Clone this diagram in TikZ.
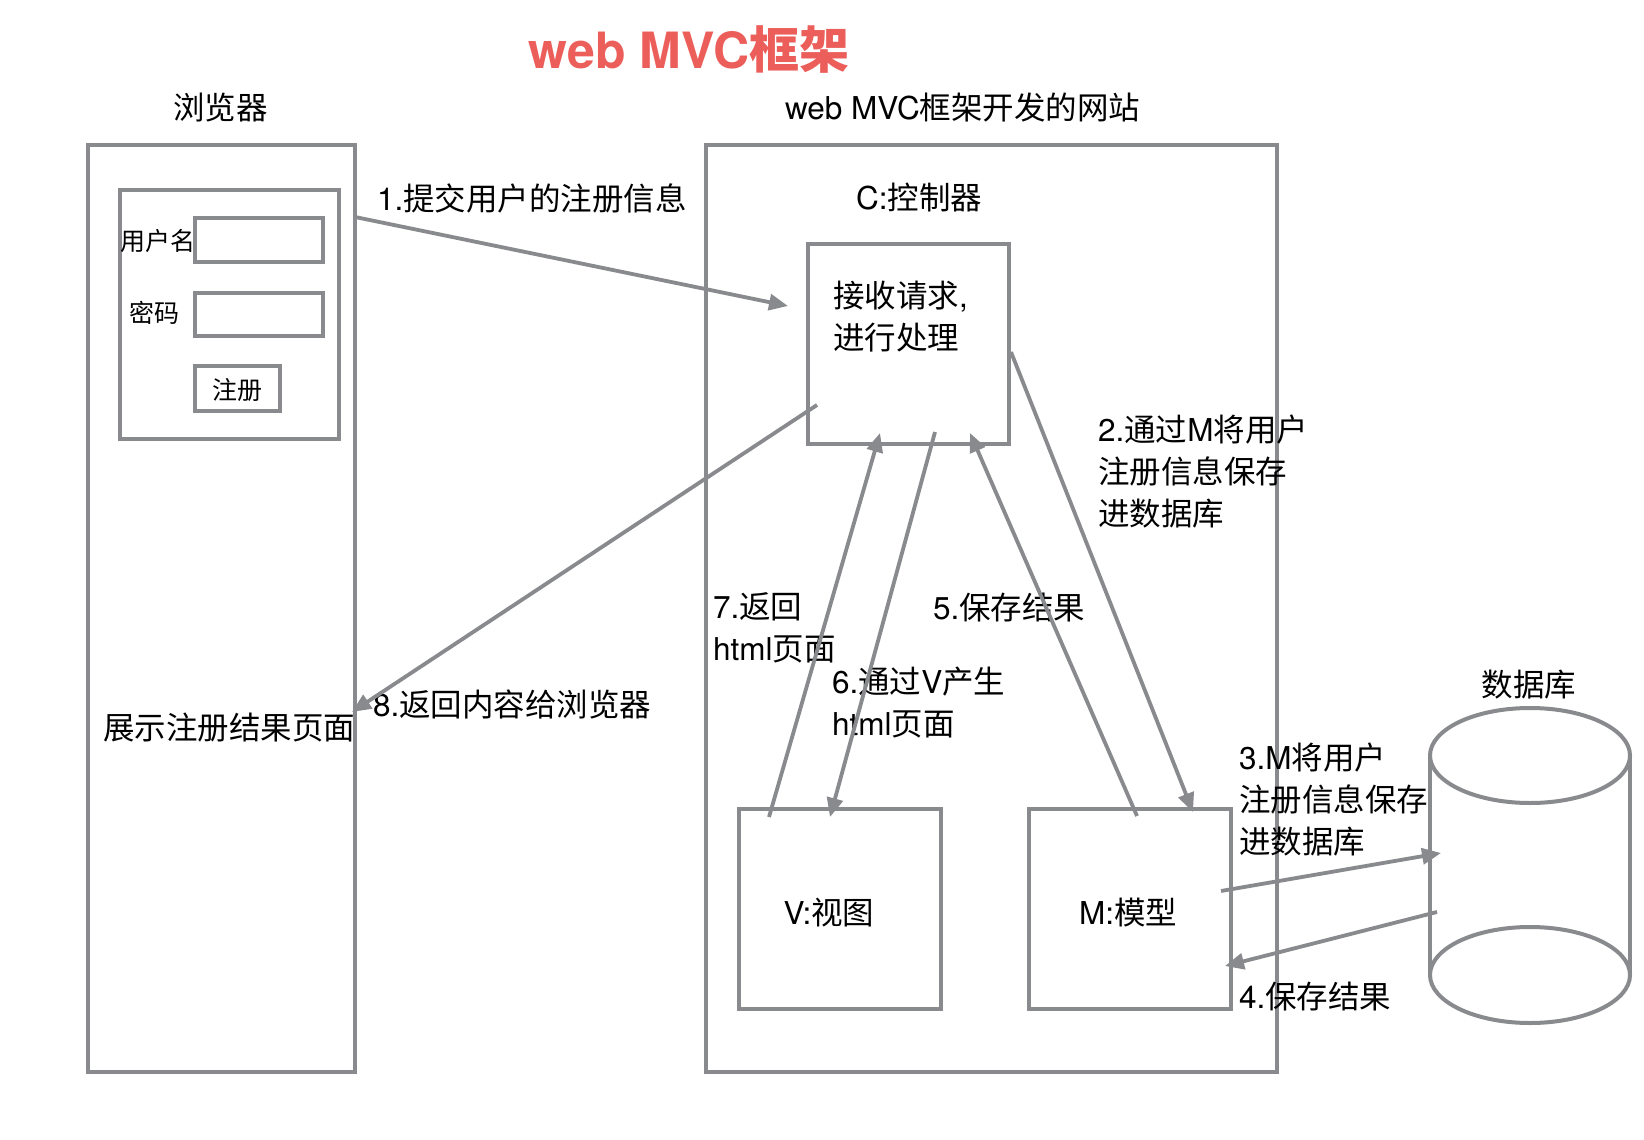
\documentclass[tikz,border=0pt]{standalone}
\usepackage{fontspec}
\setmainfont{Noto Sans CJK SC}
\newfontfamily\lat{TeX Gyre Heros}
\usetikzlibrary{arrows.meta}
\definecolor{lg}{RGB}{137,138,142}
\definecolor{tred}{RGB}{235,94,90}
\begin{document}
\begin{tikzpicture}[x=1pt,y=-1pt,
  box/.style={draw=lg, line width=4pt, inner sep=0pt, outer sep=0pt, fill=none},
  arr/.style={draw=lg, line width=3.8pt, -{Triangle[length=19pt,width=16pt]}},
  lbl/.style={font=\fontsize{31.5}{42}\selectfont, inner sep=0pt, outer sep=0pt, anchor=west, align=left},
  small/.style={font=\fontsize{25}{30}\selectfont, inner sep=0pt, outer sep=0pt}]
\useasboundingbox (0,0) rectangle (1644,1140);
\fill[white] (0,0) rectangle (1644,1140);

% title
\node[inner sep=0pt, text=tred, font=\fontsize{50}{56}\selectfont\bfseries] (title) at (689,50) {{\lat web MVC}框架};

% headings
\node[lbl] (hbrowser) at (173,108) {浏览器};
\node[lbl] (hsite) at (785,108) {{\lat web MVC}框架开发的网站};

% browser
\node[box, minimum width=267pt, minimum height=927pt] (browser) at (221.5,608.5) {};
\node[box, minimum width=219pt, minimum height=249pt] (form) at (229.5,314.5) {};
\node[box, minimum width=128pt, minimum height=44pt] (userfield) at (259,240) {};
\node[box, minimum width=128pt, minimum height=43pt] (pwdfield) at (259,314.5) {};
\node[box, minimum width=85pt, minimum height=45pt] (regbtn) at (237.5,388.5) {};
\node[small, anchor=west] (userlbl) at (120,241) {用户名};
\node[small, anchor=west] (pwdlbl) at (129,313) {密码};
\node[small] (reglbl) at (237.5,390) {注册};
\node[lbl] (showlbl) at (103,728) {展示注册结果页面};

% website
\node[box, minimum width=571pt, minimum height=927pt] (site) at (991.5,608.5) {};
\node[lbl] (clbl) at (856,198) {{\lat C:}控制器};
\node[box, minimum width=201pt, minimum height=200pt] (ctrl) at (908.5,344) {};
\node[lbl] (ctrltext) at (833,316.5) {接收请求{\lat ,}\\进行处理};
\node[box, minimum width=202pt, minimum height=200pt] (view) at (840,909) {};
\node[lbl, anchor=center] (viewlbl) at (829,913) {{\lat V:}视图};
\node[box, minimum width=202pt, minimum height=200pt] (model) at (1130,909) {};
\node[lbl, anchor=center] (modellbl) at (1128,913) {{\lat M:}模型};

% database
\coordinate (db) at (1530,865);
\draw[lg, line width=4pt] (1430,755.5) -- (1430,975) (1630,755.5) -- (1630,975);
\draw[lg, line width=4pt, fill=white] (1530,975) ellipse [x radius=100pt, y radius=48pt];
\draw[lg, line width=4pt, fill=white] (1530,755.5) ellipse [x radius=100pt, y radius=47.5pt];
\node[lbl, anchor=center] (dblbl) at (1529,685) {数据库};

% labels
\node[lbl] (l1) at (377,198) {{\lat 1.}提交用户的注册信息};
\node[lbl] (l2) at (1098,472) {{\lat 2.}通过{\lat M}将用户\\注册信息保存\\进数据库};
\node[lbl] (l3) at (1239,800) {{\lat 3.M}将用户\\注册信息保存\\进数据库};
\node[lbl] (l4) at (1239,997) {{\lat 4.}保存结果};
\node[lbl] (l5) at (933,608) {{\lat 5.}保存结果};
\node[lbl] (l6) at (832,702.5) {{\lat 6.}通过{\lat V}产生\\{\lat html}页面};
\node[lbl] (l7) at (713,628) {{\lat 7.}返回\\{\lat html}页面};
\node[lbl] (l8) at (373,704) {{\lat 8.}返回内容给浏览器};

% connector end points
\coordinate (a1s) at (355,217);   \coordinate (a1e) at (788,306);
\coordinate (a2s) at (1011,352);  \coordinate (a2e) at (1193,812);
\coordinate (a3s) at (1221,891);  \coordinate (a3e) at (1441,853);
\coordinate (a4s) at (1437,912);  \coordinate (a4e) at (1225,966);
\coordinate (a5s) at (1137,816);  \coordinate (a5e) at (970,433);
\coordinate (a6s) at (935,432);   \coordinate (a6e) at (830,817);
\coordinate (a7s) at (769,817);   \coordinate (a7e) at (880,433);
\coordinate (a8s) at (817,405);   \coordinate (a8e) at (352,712);

\draw[arr] (a1s) -- (a1e);
\draw[arr] (a2s) -- (a2e);
\draw[arr] (a3s) -- (a3e);
\draw[arr] (a4s) -- (a4e);
\draw[arr] (a5s) -- (a5e);
\draw[arr] (a6s) -- (a6e);
\draw[arr] (a7s) -- (a7e);
\draw[arr] (a8s) -- (a8e);
\end{tikzpicture}
\end{document}
